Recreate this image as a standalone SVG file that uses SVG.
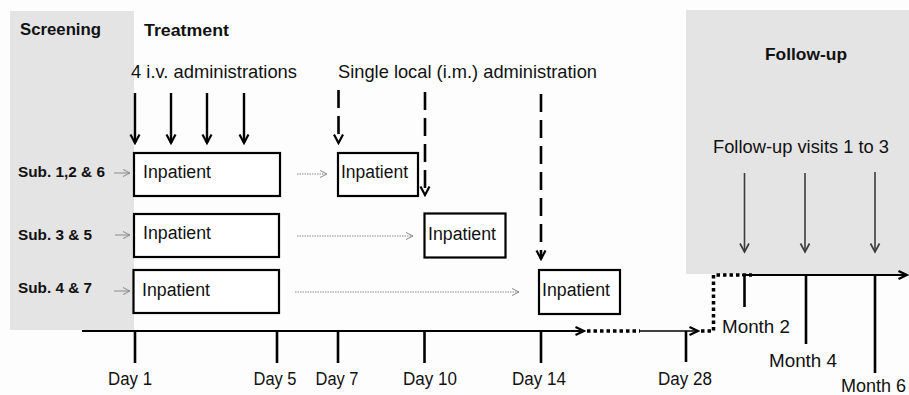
<svg xmlns="http://www.w3.org/2000/svg" width="909" height="395" viewBox="0 0 909 395">
<defs>
<style>
text{font-family:"Liberation Sans",Arial,sans-serif;fill:#111}
.b{font-weight:bold}
.t{font-size:18px}
.lbl{font-size:15.5px;font-weight:bold}
.bg{fill:#e4e4e4}
.box{fill:#fff;stroke:#000;stroke-width:2.2}
.ax{stroke:#000;stroke-width:2.2;fill:none}
.tick{stroke:#000;stroke-width:2.6}
.iv{stroke:#000;stroke-width:2.4}
.dash{stroke:#000;stroke-width:2.6;stroke-dasharray:18,8}
.dot{stroke:#000;stroke-width:3.5;stroke-dasharray:3.5,3;fill:none}
.gdot{stroke:#8a8a8a;stroke-width:1.1;stroke-dasharray:1.5,1}
.gsub{stroke:#8a8a8a;stroke-width:1}
.fu{stroke:#3c3c3c;stroke-width:1.6}
</style>
<marker id="aK" viewBox="0 0 12 12" refX="10" refY="6" markerWidth="12" markerHeight="12" markerUnits="userSpaceOnUse" orient="auto">
<path d="M1.5,1.5 L10,6 L1.5,10.5" fill="none" stroke="#000" stroke-width="2.2"/>
</marker>
<marker id="aT" viewBox="0 0 12 12" refX="10" refY="6" markerWidth="12" markerHeight="12" markerUnits="userSpaceOnUse" orient="auto">
<path d="M1.5,2 L10,6 L1.5,10" fill="none" stroke="#000" stroke-width="2.2"/>
</marker>
<marker id="aG" viewBox="0 0 12 12" refX="10" refY="6" markerWidth="12" markerHeight="12" markerUnits="userSpaceOnUse" orient="auto">
<path d="M1.5,1.5 L10,6 L1.5,10.5" fill="none" stroke="#3c3c3c" stroke-width="1.7"/>
</marker>
<marker id="aL" viewBox="0 0 10 10" refX="9" refY="5" markerWidth="10" markerHeight="10" markerUnits="userSpaceOnUse" orient="auto">
<path d="M2,1.5 L9,5 L2,8.5" fill="none" stroke="#8a8a8a" stroke-width="1"/>
</marker>
</defs>
<rect width="909" height="395" fill="#fdfdfd"/>

<g id="screening">
<rect class="bg" x="10" y="11" width="124" height="319"/>
<text class="b" x="20" y="35" font-size="17" textLength="81" lengthAdjust="spacingAndGlyphs">Screening</text>
</g>
<g id="treatment">
<text class="b" x="144" y="36" font-size="17" textLength="85" lengthAdjust="spacingAndGlyphs">Treatment</text>
<text x="131" y="78" font-size="18.5" textLength="166" lengthAdjust="spacingAndGlyphs">4 i.v. administrations</text>
<text x="338" y="78" font-size="18.5" textLength="259" lengthAdjust="spacingAndGlyphs">Single local (i.m.) administration</text>
</g>
<g id="followup">
<rect class="bg" x="686" y="10" width="223" height="264"/>
<text class="b" x="765" y="60" font-size="17" textLength="82" lengthAdjust="spacingAndGlyphs">Follow-up</text>
<text x="713" y="153" font-size="18.5" textLength="176" lengthAdjust="spacingAndGlyphs">Follow-up visits 1 to 3</text>
</g>

<g id="sub126">
<text class="lbl" x="18" y="177" textLength="87" lengthAdjust="spacingAndGlyphs">Sub. 1,2 &amp; 6</text>
<rect class="box" x="134" y="153" width="146" height="43"/>
<text class="t" x="143" y="178" textLength="68" lengthAdjust="spacingAndGlyphs">Inpatient</text>
<rect class="box" x="338" y="153" width="80" height="43"/>
<text class="t" x="341" y="178" textLength="67" lengthAdjust="spacingAndGlyphs">Inpatient</text>
</g>
<g id="sub35">
<text class="lbl" x="18" y="240" textLength="74" lengthAdjust="spacingAndGlyphs">Sub. 3 &amp; 5</text>
<rect class="box" x="134" y="214" width="145" height="43"/>
<text class="t" x="143" y="239" textLength="68" lengthAdjust="spacingAndGlyphs">Inpatient</text>
<rect class="box" x="424.5" y="213.5" width="81" height="44"/>
<text class="t" x="428" y="240" textLength="68" lengthAdjust="spacingAndGlyphs">Inpatient</text>
</g>
<g id="sub47">
<text class="lbl" x="18" y="293" textLength="74" lengthAdjust="spacingAndGlyphs">Sub. 4 &amp; 7</text>
<rect class="box" x="133.5" y="270" width="145.5" height="43"/>
<text class="t" x="142" y="296" textLength="68" lengthAdjust="spacingAndGlyphs">Inpatient</text>
<rect class="box" x="539" y="270" width="81" height="44"/>
<text class="t" x="542" y="296" textLength="68" lengthAdjust="spacingAndGlyphs">Inpatient</text>
</g>

<g id="axis-labels" font-size="17.5">
<text x="130" y="385" text-anchor="middle" textLength="44" lengthAdjust="spacingAndGlyphs">Day 1</text>
<text x="275" y="385" text-anchor="middle" textLength="43" lengthAdjust="spacingAndGlyphs">Day 5</text>
<text x="337" y="385" text-anchor="middle" textLength="43" lengthAdjust="spacingAndGlyphs">Day 7</text>
<text x="430" y="385" text-anchor="middle" textLength="54" lengthAdjust="spacingAndGlyphs">Day 10</text>
<text x="539" y="385" text-anchor="middle" textLength="54" lengthAdjust="spacingAndGlyphs">Day 14</text>
<text x="685" y="385" text-anchor="middle" textLength="54" lengthAdjust="spacingAndGlyphs">Day 28</text>
<text x="722" y="333" textLength="68" lengthAdjust="spacingAndGlyphs">Month 2</text>
<text x="769" y="367" textLength="68" lengthAdjust="spacingAndGlyphs">Month 4</text>
<text x="841" y="392" textLength="65" lengthAdjust="spacingAndGlyphs">Month 6</text>
</g>

<g id="connectors">
<line class="gsub" x1="114" y1="173" x2="130" y2="173" marker-end="url(#aL)"/>
<line class="gsub" x1="115" y1="235" x2="130" y2="235" marker-end="url(#aL)"/>
<line class="gsub" x1="114" y1="291" x2="130" y2="291" marker-end="url(#aL)"/>
<line class="gdot" x1="297" y1="174" x2="327" y2="174" marker-end="url(#aL)"/>
<line class="gdot" x1="297" y1="236" x2="413" y2="236" marker-end="url(#aL)"/>
<line class="gdot" x1="295" y1="292" x2="519" y2="292" marker-end="url(#aL)"/>
<line class="iv" x1="135" y1="93" x2="135" y2="143" marker-end="url(#aK)"/>
<line class="iv" x1="171" y1="93" x2="171" y2="143" marker-end="url(#aK)"/>
<line class="iv" x1="207" y1="93" x2="207" y2="143" marker-end="url(#aK)"/>
<line class="iv" x1="244" y1="93" x2="244" y2="143" marker-end="url(#aK)"/>
<line class="dash" x1="338.5" y1="90" x2="338.5" y2="143" marker-end="url(#aK)"/>
<line class="dash" x1="425" y1="92" x2="425" y2="195" marker-end="url(#aK)"/>
<line class="dash" x1="541" y1="94" x2="541" y2="259" marker-end="url(#aK)"/>
<line class="fu" x1="744.5" y1="173" x2="744.5" y2="252" marker-end="url(#aG)"/>
<line class="fu" x1="805" y1="173" x2="805" y2="252" marker-end="url(#aG)"/>
<line class="fu" x1="875" y1="172" x2="875" y2="252" marker-end="url(#aG)"/>
<line class="ax" x1="82" y1="331" x2="584" y2="331" marker-end="url(#aT)"/>
<line class="dot" x1="587" y1="331" x2="640" y2="331"/>
<line stroke="#000" stroke-width="1.6" x1="640" y1="331" x2="698" y2="331" marker-end="url(#aT)"/>
<path class="dot" d="M701,331 H713.5 V275 H752"/>
<line class="ax" x1="742" y1="275" x2="907" y2="275" stroke-width="2.6" marker-end="url(#aT)"/>
<line class="tick" x1="135" y1="331" x2="135" y2="363"/>
<line class="tick" x1="277" y1="331" x2="277" y2="363"/>
<line class="tick" x1="338" y1="331" x2="338" y2="363"/>
<line class="tick" x1="424.5" y1="331" x2="424.5" y2="363"/>
<line class="tick" x1="541" y1="331" x2="541" y2="363"/>
<line class="tick" x1="686" y1="331" x2="686" y2="362"/>
<line class="tick" x1="744.5" y1="275" x2="744.5" y2="307"/>
<line class="tick" x1="806" y1="275" x2="806" y2="344"/>
<line class="tick" x1="875" y1="275" x2="875" y2="373"/>
</g>
</svg>
